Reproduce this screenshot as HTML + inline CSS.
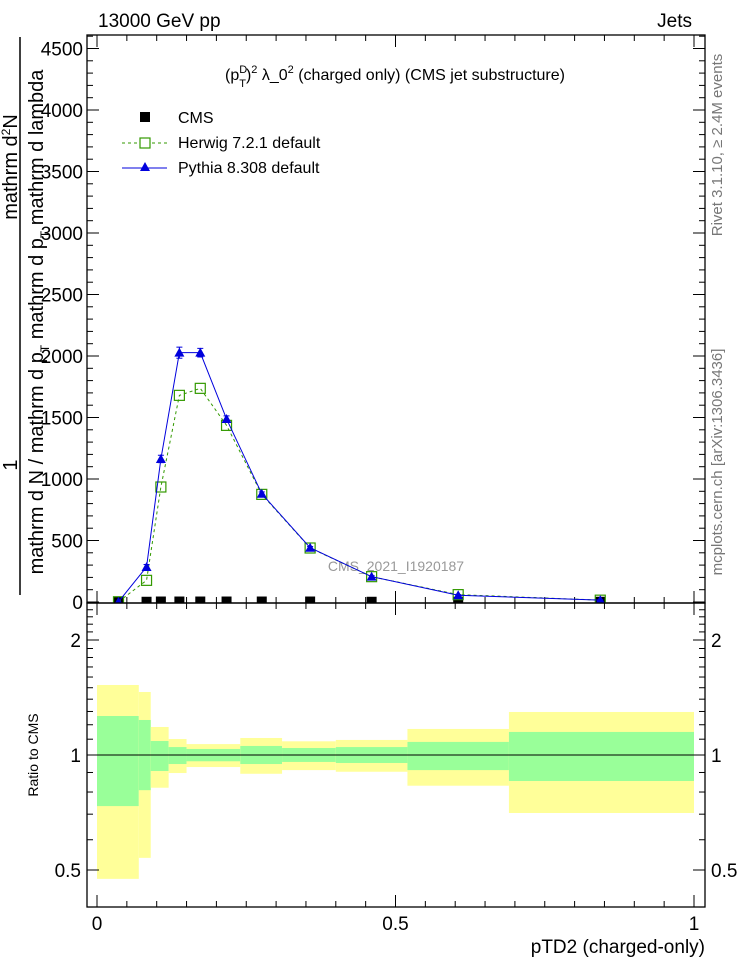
<!DOCTYPE html>
<html><head><meta charset="utf-8"><style>
html,body{margin:0;padding:0;background:#fff}
svg{display:block;font-family:"Liberation Sans",Arial,sans-serif}
</style></head><body>
<svg id="c" width="746" height="972" viewBox="0 0 746 972" xmlns="http://www.w3.org/2000/svg">
<text x="98" y="27" font-size="19">13000 GeV pp</text>
<text x="692" y="27" font-size="19" text-anchor="end">Jets</text>
<text x="395" y="80" font-size="16" text-anchor="middle">(p<tspan font-size="11" dy="-7">D</tspan><tspan font-size="11" dx="-8" dy="14">T</tspan><tspan dy="-7">)</tspan><tspan font-size="11" dy="-7">2</tspan><tspan dy="7"> λ_0</tspan><tspan font-size="11" dy="-7">2</tspan><tspan dy="7"> (charged only) (CMS jet substructure)</tspan></text>
<g>
<rect x="140" y="112" width="10" height="10" fill="#000"/>
<text x="178" y="123" font-size="16">CMS</text>
<line x1="122" y1="143" x2="167" y2="143" stroke="#339900" stroke-dasharray="3,3"/>
<rect x="140" y="138" width="10" height="10" fill="#fff" stroke="#339900" stroke-width="1.2"/>
<text x="178" y="148" font-size="16">Herwig 7.2.1 default</text>
<line x1="122" y1="168" x2="167" y2="168" stroke="#0000dd"/>
<polygon points="145,162 140,171 150,171" fill="#0000dd"/>
<text x="178" y="173" font-size="16">Pythia 8.308 default</text>
</g>
<text x="396" y="571" font-size="14" fill="#999" text-anchor="middle">CMS_2021_I1920187</text>
<text transform="translate(722,145) rotate(-90)" font-size="15" fill="#777" text-anchor="middle">Rivet 3.1.10, ≥ 2.4M events</text>
<text transform="translate(722,462) rotate(-90)" font-size="15" fill="#777" text-anchor="middle">mcplots.cern.ch [arXiv:1306.3436]</text>
<g>
<line x1="20" y1="37" x2="20" y2="595" stroke="#000" stroke-width="1.5"/>
<text transform="translate(17,465) rotate(-90)" font-size="20" text-anchor="middle">1</text>
<text transform="translate(17,167) rotate(-90)" font-size="20" text-anchor="middle">mathrm d<tspan font-size="12" dy="-7">2</tspan><tspan dy="7">N</tspan></text>
<text transform="translate(43,322) rotate(-90)" font-size="20" text-anchor="middle">mathrm d N / mathrm d p<tspan font-size="12" dy="6">T</tspan><tspan dy="-6"> mathrm d p</tspan><tspan font-size="12" dy="6">T</tspan><tspan dy="-6"> mathrm d lambda</tspan></text>
</g>
<text transform="translate(38,755) rotate(-90)" font-size="14" text-anchor="middle">Ratio to CMS</text>
<text x="705" y="953" font-size="19" text-anchor="end">pTD2 (charged-only)</text>
<g id="main"></g>
<g id="ratio"></g>
</svg>
<script>
const xPoints=[0.036,0.083,0.107,0.138,0.173,0.217,0.276,0.357,0.46,0.605,0.843];
const cmsValues=[10,10,12,12,12,12,12,12,10,10,10];
const herwigValues=[2,176,935,1680,1737,1436,875,439,206,60,15];
const pythiaValues=[2,285,1163,2027,2027,1488,880,441,206,55,15];
const pythiaErr=[0,20,30,45,35,25,15,10,8,5,3];
const yTicks=[0,500,1000,1500,2000,2500,3000,3500,4000,4500];
const xTicks=[0,0.5,1];
const xTickLabels=["0","0.5","1"];
const ratioEdges=[0,0.07,0.09,0.12,0.15,0.24,0.31,0.40,0.52,0.69,1.0];
const yellowUp=[1.525,1.462,1.184,1.101,1.068,1.108,1.086,1.095,1.17,1.296];
const yellowLo=[0.474,0.538,0.821,0.897,0.930,0.893,0.913,0.904,0.831,0.705];
const greenUp=[1.265,1.235,1.088,1.049,1.037,1.056,1.043,1.049,1.082,1.149];
const greenLo=[0.735,0.809,0.908,0.947,0.963,0.947,0.959,0.953,0.913,0.855];
const ratioTicks=[0.5,1,2];
const ratioTickLabels=["0.5","1","2"];

const NS="http://www.w3.org/2000/svg";
const L=87,R=705,T=35,B=603,RT=603,RB=907;
const X=v=>97+v*597;
const Y=v=>602-v*0.123;
const RY=v=>755-115*Math.log2(v);
function mk(tag,attrs,parent){const e=document.createElementNS(NS,tag);for(const k in attrs)e.setAttribute(k,attrs[k]);parent.appendChild(e);return e;}
const main=document.getElementById('main'),ratio=document.getElementById('ratio');
const defs=mk('defs',{},main);
const cp=mk('clipPath',{id:'cpm'},defs);mk('rect',{x:L,y:T,width:R-L,height:B-T},cp);
yellowUp.forEach((u,i)=>{
 const y=mk('rect',{x:X(ratioEdges[i]),y:RY(u),width:X(ratioEdges[i+1])-X(ratioEdges[i]),height:RY(yellowLo[i])-RY(u),fill:'#ffff99'},ratio);
 
 
 const g=mk('rect',{x:X(ratioEdges[i]),y:RY(greenUp[i]),width:X(ratioEdges[i+1])-X(ratioEdges[i]),height:RY(greenLo[i])-RY(greenUp[i]),fill:'#99ff99'},ratio);
 
 
});
const one=mk('line',{x1:X(0),x2:X(1),y1:RY(1),y2:RY(1),stroke:'#000'},ratio);


const f1=mk('rect',{x:L,y:T,width:R-L,height:B-T,fill:'none',stroke:'#000','stroke-width':1.3},main);


const f2=mk('rect',{x:L,y:RT,width:R-L,height:RB-RT,fill:'none',stroke:'#000','stroke-width':1.3},ratio);


for(let v=0;v<=4600;v+=100){const maj=v%500===0,len=maj?12:6;
 mk('line',{x1:L,x2:L+len,y1:Y(v),y2:Y(v),stroke:'#000'},main);
 mk('line',{x1:R,x2:R-len,y1:Y(v),y2:Y(v),stroke:'#000'},main);}
yTicks.forEach(v=>{const t=mk('text',{x:L-4,y:Y(v)+7,'font-size':19,'text-anchor':'end'},main);t.textContent=v;
 
 });
for(let k=0;k<=20;k++){const v=k*0.05;if(v>1.018)break;const maj=k%10===0,len=maj?12:6;
 [[B,-1],[RT,1],[RB,-1],[T,1]].forEach(([y0,d])=>mk('line',{x1:X(v),x2:X(v),y1:y0,y2:y0+d*len,stroke:'#000'},main));}
xTicks.forEach((v,i)=>{const t=mk('text',{x:X(v),y:930,'font-size':19,'text-anchor':'middle'},ratio);t.textContent=xTickLabels[i];
 
 });
for(let v=0.4;v<=2.51;v+=0.1){const maj=[0.5,1,2].some(m=>Math.abs(m-v)<1e-6),len=maj?12:6;
 mk('line',{x1:L,x2:L+len,y1:RY(v),y2:RY(v),stroke:'#000'},ratio);
 mk('line',{x1:R,x2:R-len,y1:RY(v),y2:RY(v),stroke:'#000'},ratio);}
ratioTicks.forEach((v,i)=>{[[L-6,'end'],[R+6,'start']].forEach(([x,a])=>{const t=mk('text',{x:x,y:RY(v)+7,'font-size':19,'text-anchor':a},ratio);t.textContent=ratioTickLabels[i];
 
 });});
const g=mk('g',{'clip-path':'url(#cpm)'},main);
cmsValues.forEach((v,i)=>{const r=mk('rect',{x:X(xPoints[i])-5,y:Y(v)-4,width:10,height:8,fill:'#000'},g);
 
 });
const hp=mk('polyline',{points:xPoints.map((x,i)=>X(x)+','+Y(herwigValues[i])).join(' '),fill:'none',stroke:'#339900','stroke-dasharray':'3,3'},g);


herwigValues.forEach((v,i)=>{const r=mk('rect',{x:X(xPoints[i])-5,y:Y(v)-5,width:10,height:10,fill:'none',stroke:'#339900','stroke-width':1.2},g);
 
 });
const pp=mk('polyline',{points:xPoints.map((x,i)=>X(x)+','+Y(pythiaValues[i])).join(' '),fill:'none',stroke:'#0000dd'},g);


pythiaValues.forEach((v,i)=>{const x=X(xPoints[i]),y=Y(v);
 if(pythiaErr[i]>0){mk('line',{x1:x,x2:x,y1:Y(v+pythiaErr[i]),y2:Y(v-pythiaErr[i]),stroke:'#0000dd'},g);
  mk('line',{x1:x-3,x2:x+3,y1:Y(v+pythiaErr[i]),y2:Y(v+pythiaErr[i]),stroke:'#0000dd'},g);
  mk('line',{x1:x-3,x2:x+3,y1:Y(v-pythiaErr[i]),y2:Y(v-pythiaErr[i]),stroke:'#0000dd'},g);}
 const p=mk('polygon',{points:`${x},${y-5} ${x-5},${y+4} ${x+5},${y+4}`,fill:'#0000dd'},g);
 
 });
</script>
</body></html>
